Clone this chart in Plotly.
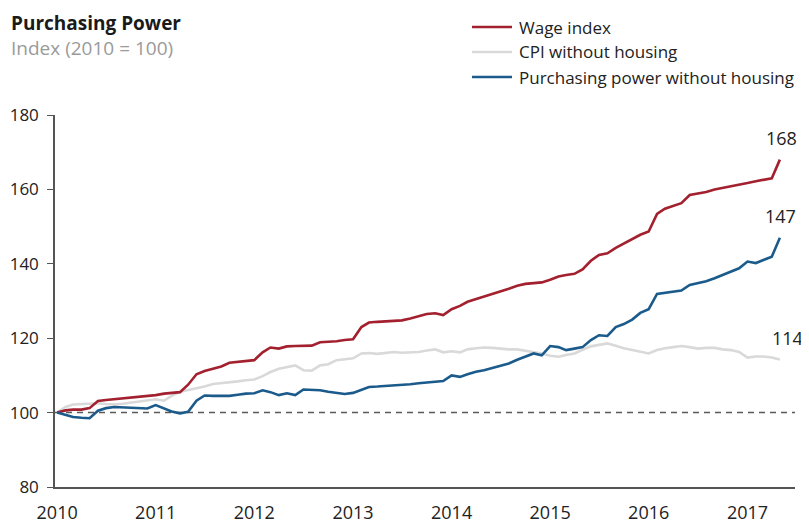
import pandas as pd
import plotly.graph_objects as go

# ---------------- data ----------------
dates = pd.date_range("2010-01-01", periods=89, freq="MS")

wage_index = [
    100.0, 100.6, 100.8, 100.8, 101.2, 103.1, 103.4, 103.6, 103.8, 104.1, 104.3, 104.5,
    104.7, 105.1, 105.3, 105.5, 107.5, 110.3, 111.2, 111.8, 112.4, 113.4, 113.7, 113.9,
    114.1, 116.2, 117.5, 117.2, 117.8, 117.9, 117.9, 118.0, 118.9, 119.0, 119.2, 119.5,
    119.7, 123.0, 124.2, 124.4, 124.5, 124.6, 124.8, 125.3, 126.0, 126.5, 126.7, 126.2,
    127.8, 128.7, 129.8, 130.5, 131.2, 131.8, 132.6, 133.3, 134.1, 134.6, 134.8, 135.0,
    135.7, 136.6, 137.0, 137.3, 138.5, 140.8, 142.4, 142.8, 144.3, 145.4, 146.5, 147.8,
    148.7, 153.4, 154.8, 155.6, 156.3, 158.5, 158.9, 159.3, 160.0, 160.4, 160.7, 161.3,
    161.7, 162.2, 162.6, 163.0, 168.0,
]

cpi_ex_housing = [
    100.0, 101.5, 102.2, 102.3, 102.5, 102.5, 102.3, 102.2, 102.4, 102.7, 103.1, 103.3,
    103.6, 103.2, 104.5, 105.6, 106.0, 106.6, 107.0, 107.7, 107.9, 108.1, 108.4, 108.7,
    108.9, 109.8, 110.9, 111.8, 112.3, 112.7, 111.4, 111.3, 112.7, 113.0, 114.1, 114.3,
    114.6, 115.9, 116.0, 115.8, 116.0, 116.3, 116.1, 116.3, 116.3, 116.7, 117.0, 116.2,
    116.5, 116.2, 117.0, 117.3, 117.5, 117.4, 117.2, 117.0, 117.0, 116.7, 116.3, 115.9,
    115.3, 115.0, 115.5, 115.9, 116.9, 117.8, 118.2, 118.6, 118.0, 117.3, 116.8, 116.3,
    115.9, 116.8, 117.3, 117.6, 117.9, 117.6, 117.2, 117.4, 117.4, 117.0, 116.8, 116.3,
    114.8, 115.1, 115.1, 114.8, 114.3,
]

purchasing_power = [
    100.0, 99.3, 98.8, 98.6, 98.5, 100.5, 101.2, 101.5, 101.4, 101.3, 101.2, 101.1,
    102.0, 101.0, 100.3, 99.8, 100.2, 103.2, 104.6, 104.5, 104.4, 104.5, 104.8, 105.1,
    105.2, 106.0, 105.5, 104.7, 105.2, 104.7, 106.2, 106.1, 106.0, 105.6, 105.2, 105.0,
    105.3, 106.2, 106.9, 107.0, 107.1, 107.2, 107.4, 107.6, 107.9, 108.1, 108.3, 108.5,
    110.0, 109.6, 110.3, 111.0, 111.4, 112.0, 112.6, 113.2, 114.2, 115.0, 115.9, 115.4,
    117.9, 117.6, 116.8, 117.2, 117.6, 119.5, 120.8, 120.6, 123.0, 123.8, 125.0, 126.8,
    127.8, 131.9, 132.2, 132.5, 132.8, 134.3, 134.8, 135.3, 136.1, 137.0, 137.8, 138.8,
    140.6, 140.2, 141.0, 141.9, 147.0,
]

series_names = ["Wage index", "CPI without housing", "Purchasing power without housing"]
baseline = 100
y_ticks = [80, 100, 120, 140, 160, 180]
x_tick_years = ["2010", "2011", "2012", "2013", "2014", "2015", "2016", "2017"]

title_text = "Purchasing Power"
subtitle_text = "Index (2010 = 100)"

# ---------------- styles ----------------
RED = "#A3202F"
GREY = "#D9D9D9"
BLUE = "#1B5B8C"
colors = [RED, GREY, BLUE]
FONT = "Open Sans"

# the page puts the figure 8px in from the top-left corner of the window
OFF = 8
W, H = 809 - OFF, 525 - OFF
ML, MR, MT, MB = 55 - OFF, 14, 115 - OFF, 38
PW = W - ML - MR
PH = H - MT - MB

fig = go.Figure()

all_series = [wage_index, cpi_ex_housing, purchasing_power]
# draw grey first so the coloured lines sit on top
order = [1, 0, 2]
for k in order:
    fig.add_trace(go.Scatter(
        x=dates, y=all_series[k], mode="lines", name=series_names[k],
        line=dict(color=colors[k], width=2.6), showlegend=False,
        hoverinfo="x+y", cliponaxis=False,
    ))

# baseline dashed line at 100
fig.add_shape(type="line", xref="paper", yref="y", x0=0, x1=1, y0=baseline, y1=baseline,
              line=dict(color="#5a5a5a", width=1.5, dash="6px,5px"), layer="below")

# end labels
yshift = {0: 22, 1: 21, 2: 22}
xshift = {0: 2, 1: 8, 2: 1}
for k in range(3):
    fig.add_annotation(x=dates[-1], y=all_series[k][-1],
                       text=f"{all_series[k][-1]:.0f}",
                       showarrow=False, yshift=yshift[k], xshift=xshift[k],
                       font=dict(family=FONT, size=18, color="#222222"))

# helpers: window pixel -> paper coordinate
def px_to_paper_x(px):
    return (px - OFF - ML) / PW

def px_to_paper_y(py):
    return (H - MB - (py - OFF)) / PH

# manual legend (lines + text) at top right
legend_rows = [27, 52, 77]
for k, row in enumerate(legend_rows):
    yy = px_to_paper_y(row)
    fig.add_shape(type="line", xref="paper", yref="paper",
                  x0=px_to_paper_x(472), x1=px_to_paper_x(512), y0=yy, y1=yy,
                  line=dict(color=colors[k], width=2.6))
    fig.add_annotation(xref="paper", yref="paper", x=px_to_paper_x(517), y=yy,
                       xanchor="left", yanchor="middle", text=series_names[k],
                       showarrow=False, font=dict(family=FONT, size=17, color="#222222"))

# title and subtitle
fig.add_annotation(xref="paper", yref="paper", x=px_to_paper_x(9), y=px_to_paper_y(8),
                   xanchor="left", yanchor="top", text=f"<b>{title_text}</b>",
                   showarrow=False, font=dict(family=FONT, size=19, color="#1a1a1a"))
fig.add_annotation(xref="paper", yref="paper", x=px_to_paper_x(9), y=px_to_paper_y(33),
                   xanchor="left", yanchor="top", text=subtitle_text,
                   showarrow=False, font=dict(family=FONT, size=19, color="#9a9a9a"))

fig.update_layout(
    width=W, height=H,
    margin=dict(l=ML, r=MR, t=MT, b=MB, autoexpand=False),
    paper_bgcolor="white", plot_bgcolor="white",
    font=dict(family=FONT, size=17, color="#222222"),
    showlegend=False,
)

fig.update_xaxes(
    range=["2009-12-24", "2017-06-26"],
    tickvals=[pd.Timestamp(f"{y}-01-01") for y in x_tick_years],
    ticktext=x_tick_years,
    showgrid=False, zeroline=False, automargin=False,
    showline=True, linecolor="#555555", linewidth=1.5,
    ticks="", ticklabelstandoff=9,
    tickfont=dict(family=FONT, size=18, color="#222222"),
)
fig.update_yaxes(
    range=[80, 180], tickvals=y_ticks,
    showgrid=False, zeroline=False, automargin=False,
    showline=True, linecolor="#555555", linewidth=1.5,
    ticks="outside", ticklen=6, tickcolor="#555555", tickwidth=1.2,
    ticklabelstandoff=5,
    tickfont=dict(family=FONT, size=17, color="#222222"),
)

fig.write_html("out.html")
